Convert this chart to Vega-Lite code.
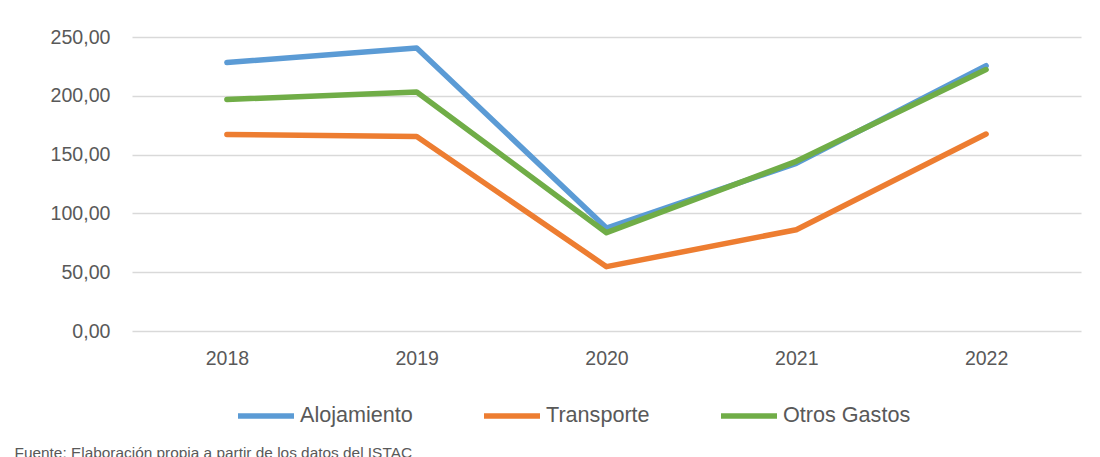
{
  "$schema": "https://vega.github.io/schema/vega-lite/v6.json",
  "autosize": "none",
  "width": 949,
  "height": 294,
  "padding": {"left": 132, "top": 37, "right": 19, "bottom": 126},
  "background": "white",
  "config": {
    "view": {"stroke": null},
    "font": "Liberation Sans"
  },
  "data": {
    "values": [
      {"year": "2018", "serie": "Alojamiento", "value": 228.3},
      {"year": "2019", "serie": "Alojamiento", "value": 240.6},
      {"year": "2020", "serie": "Alojamiento", "value": 87.6},
      {"year": "2021", "serie": "Alojamiento", "value": 142.6},
      {"year": "2022", "serie": "Alojamiento", "value": 225.6},
      {"year": "2018", "serie": "Transporte", "value": 167.1},
      {"year": "2019", "serie": "Transporte", "value": 165.4},
      {"year": "2020", "serie": "Transporte", "value": 54.7},
      {"year": "2021", "serie": "Transporte", "value": 86.1},
      {"year": "2022", "serie": "Transporte", "value": 167.5},
      {"year": "2018", "serie": "Otros Gastos", "value": 196.9},
      {"year": "2019", "serie": "Otros Gastos", "value": 203.2},
      {"year": "2020", "serie": "Otros Gastos", "value": 83.6},
      {"year": "2021", "serie": "Otros Gastos", "value": 144.3},
      {"year": "2022", "serie": "Otros Gastos", "value": 222.3}
    ]
  },
  "mark": {"type": "line", "strokeWidth": 5.5, "strokeCap": "round", "strokeJoin": "round"},
  "encoding": {
    "x": {
      "field": "year",
      "type": "ordinal",
      "scale": {"type": "point", "padding": 0.5},
      "axis": {
        "title": "Fuente: Elaboración propia a partir de los datos del ISTAC",
        "titleFont": "Liberation Sans",
        "titleFontSize": 15.4,
        "titleFontWeight": "normal",
        "titleColor": "#595959",
        "titleAlign": "left",
        "titleAnchor": "start",
        "titleBaseline": "alphabetic",
        "titleX": -118,
        "titleY": 126,
        "labelAngle": 0,
        "labelFontSize": 19.5,
        "labelColor": "#595959",
        "labelPadding": 18,
        "ticks": false,
        "domain": false,
        "grid": false
      }
    },
    "y": {
      "field": "value",
      "type": "quantitative",
      "scale": {"domain": [0, 250], "nice": false},
      "axis": {
        "title": null,
        "values": [0, 50, 100, 150, 200, 250],
        "format": ".2f",
        "labelExpr": "replace(datum.label, '.', ',')",
        "labelFontSize": 19.6,
        "labelColor": "#595959",
        "labelPadding": 22,
        "ticks": false,
        "domain": false,
        "grid": true,
        "gridColor": "#d9d9d9",
        "gridWidth": 1.4
      }
    },
    "color": {
      "field": "serie",
      "type": "nominal",
      "sort": null,
      "scale": {
        "domain": ["Alojamiento", "Transporte", "Otros Gastos"],
        "range": ["#5B9BD5", "#ED7D31", "#70AD47"]
      },
      "legend": {
        "title": null,
        "orient": "none",
        "direction": "horizontal",
        "legendX": 103,
        "legendY": 348,
        "padding": 0,
        "symbolType": "stroke",
        "symbolSize": 3136,
        "symbolStrokeWidth": 5.5,
        "labelFontSize": 21.6,
        "labelColor": "#595959",
        "labelOffset": 3,
        "columnPadding": 60,
        "labelLimit": 300
      }
    }
  }
}
